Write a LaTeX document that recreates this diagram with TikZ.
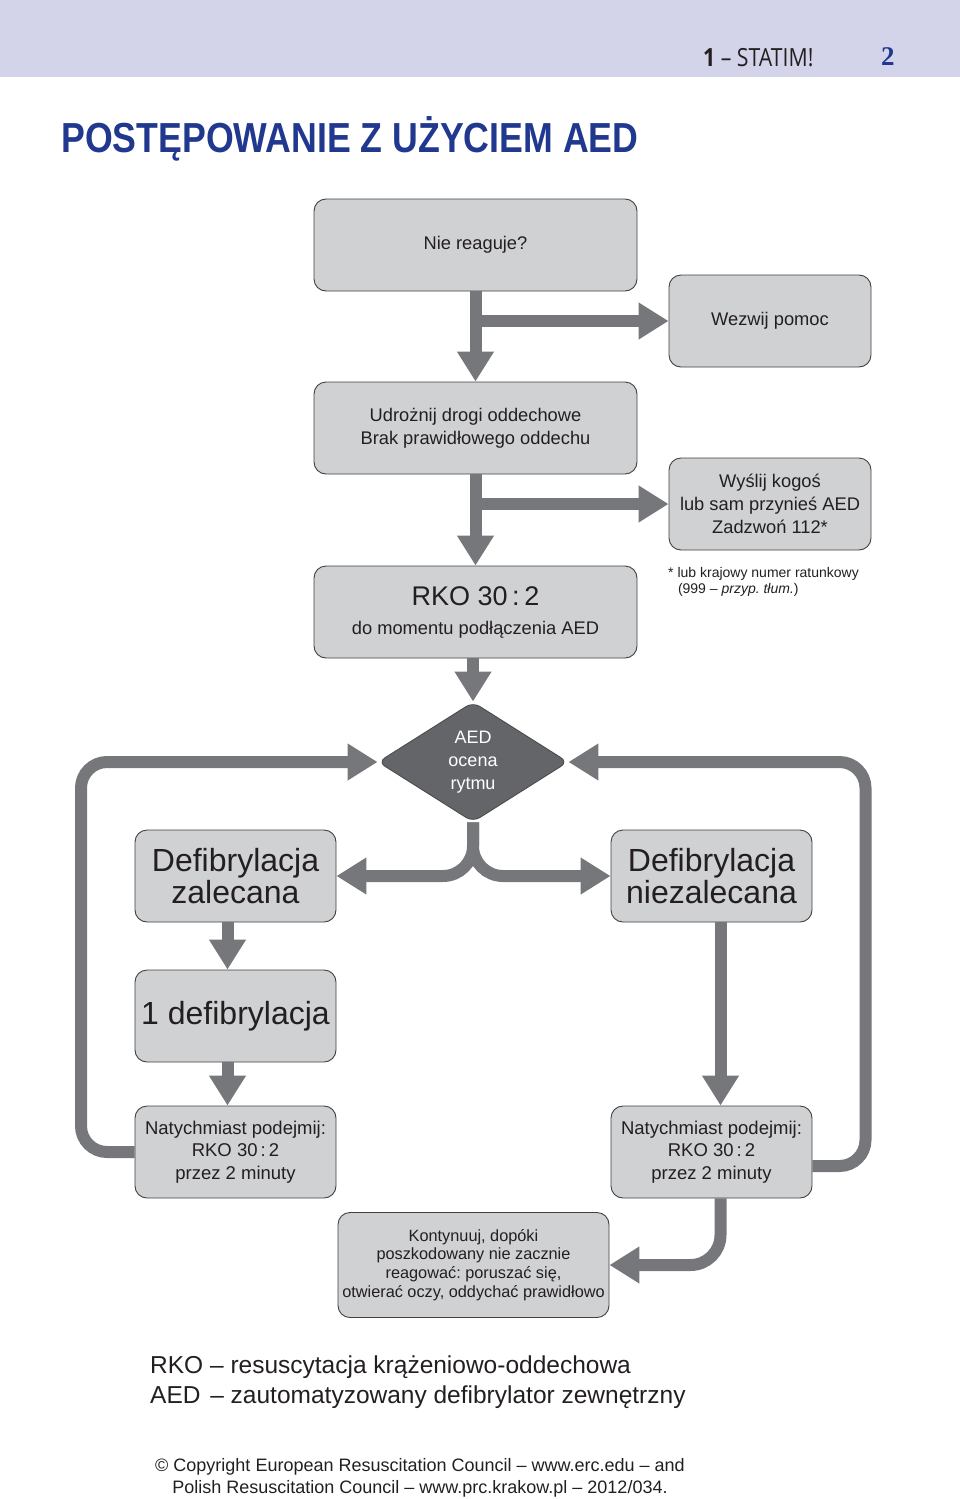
\documentclass[tikz,border=0pt]{standalone}
\usepackage{fontspec}
\usepackage{graphicx}
\setmainfont{Liberation Sans}
\newfontfamily\headfont{Open Sans}
\newfontfamily\numfont{Liberation Serif}
\usetikzlibrary{arrows.meta,shapes.geometric}
\frenchspacing

\definecolor{bandblue}{RGB}{211,212,233}
\definecolor{titleblue}{RGB}{33,56,143}
\definecolor{boxgray}{RGB}{208,209,211}
\definecolor{flowgray}{RGB}{118,119,122}
\definecolor{diagray}{RGB}{100,101,105}
\definecolor{inkblack}{RGB}{35,31,32}

\newcommand{\fsz}[2]{\fontsize{#1}{#2}\selectfont}

\begin{document}
\begin{tikzpicture}[x=1pt, y=-1pt,
  box/.style={draw=black!75, line width=0.9pt, fill=boxgray, rounded corners=12pt,
    align=center, text=inkblack, inner sep=2pt, font=\fsz{18.3}{23}},
  wide/.style={box, minimum width=323pt, minimum height=92pt},
  side/.style={box, minimum width=202pt, minimum height=92pt},
  flow/.style={draw=flowgray, line width=12pt, -{Triangle[width=35pt,length=30pt]}},
  legend/.style={text=inkblack, inner sep=0pt, font=\fsz{24.5}{30}}]
  \useasboundingbox (0,0) rectangle (960,1499);

  % Header band
  \fill[bandblue] (0,0) rectangle (960,77);
  \node[anchor=base west, inner sep=0pt, text=inkblack] (head) at (703,66)
    {\scalebox{0.85}[1]{\headfont\fsz{25}{25}\textbf{1} – STATIM!}};
  \node[anchor=base west, inner sep=0pt, text=titleblue] (page) at (881,65)
    {\numfont\fsz{27}{27}\bfseries 2};

  % Title
  \node[anchor=base west, inner sep=0pt, text=titleblue] (title) at (61,152)
    {\scalebox{0.85}[1]{\fsz{42}{42}\bfseries POSTĘPOWANIE Z UŻYCIEM AED}};

  % Boxes
  \node[wide] (nie) at (475.5,245) {Nie reaguje?};
  \node[side] (wez) at (770,321) {Wezwij pomoc};
  \node[wide] (udr) at (475.5,428) {Udrożnij drogi oddechowe\\Brak prawidłowego oddechu};
  \node[side] (wys) at (770,504) {Wyślij kogoś\\lub sam przynieś AED\\Zadzwoń 112*};
  \node[anchor=north west, align=left, inner sep=0pt, text=inkblack, font=\fsz{14}{16}]
    (note) at (668,567) {* lub krajowy numer ratunkowy\\\hspace*{0.7em}(999 – \textit{przyp. tłum.})};
  \node[wide] (rko) at (475.5,612)
    {{\fsz{27}{31}RKO 30\,:\,2}\\[6pt]do momentu podłączenia AED};

  % Rhythm check
  \node[shape=diamond, aspect=1.6, minimum width=190pt, minimum height=120pt, inner sep=0pt,
    fill=diagray, draw=black!70, line width=0.9pt, rounded corners=8pt, align=center,
    text=white, font=\fsz{18}{23}] (aed) at (473,762) {AED\\ocena\\rytmu};

  \node[box, minimum width=201pt, minimum height=92pt, font=\fsz{32}{32}] (defz) at (235.5,876)
    {Defibrylacja\\zalecana};
  \node[box, minimum width=201pt, minimum height=92pt, font=\fsz{32}{32}] (defn) at (711.5,876)
    {Defibrylacja\\niezalecana};
  \node[box, minimum width=201pt, minimum height=92pt, font=\fsz{32}{32}] (jeden) at (235.5,1016)
    {1 defibrylacja};
  \node[box, minimum width=201pt, minimum height=92pt, font=\fsz{18.5}{22.5}] (natL) at (235.5,1152)
    {Natychmiast podejmij:\\RKO 30\,:\,2\\przez 2 minuty};
  \node[box, minimum width=201pt, minimum height=92pt, font=\fsz{18.5}{22.5}] (natR) at (711.5,1152)
    {Natychmiast podejmij:\\RKO 30\,:\,2\\przez 2 minuty};
  \node[box, minimum width=271pt, minimum height=105pt, font=\fsz{16.3}{18.7}] (kont) at (473.5,1265)
    {Kontynuuj, dopóki\\poszkodowany nie zacznie\\reagować: poruszać się,\\otwierać oczy, oddychać prawidłowo};

  % Loop corners
  \coordinate (loopL) at (81,762);
  \coordinate (loopR) at (865.5,762);

  % Arrows
  \draw[flow] (nie.south) -- (udr.north);
  \draw[flow] (nie.south |- wez.west) -- (wez.west);
  \draw[flow] (udr.south) -- (rko.north);
  \draw[flow] (udr.south |- wys.west) -- (wys.west);
  \draw[flow] (rko.south -| aed.north) -- (aed.north);
  \draw[flow, rounded corners=30pt] (aed.south) |- (defz.east);
  \draw[flow, rounded corners=30pt] (aed.south) |- (defn.west);
  \draw[flow] ([xshift=-8pt]defz.south) -- ([xshift=-8pt]jeden.north);
  \draw[flow] ([xshift=-8pt]jeden.south) -- ([xshift=-8pt]natL.north);
  \draw[flow] ([xshift=9pt]defn.south) -- ([xshift=9pt]natR.north);
  \draw[flow, rounded corners=26pt] (natL.west) -| (loopL) -- (aed.west);
  \draw[flow, rounded corners=26pt] ([yshift=-14pt]natR.east) -| (loopR) -- (aed.east);
  \draw[flow, rounded corners=30pt] ([xshift=9pt]natR.south) |- (kont.east);

  % Legend
  \node[legend, anchor=west] (abbr1) at (150,1367) {RKO – resuscytacja krążeniowo-oddechowa};
  \node[legend, anchor=west] (abbr2) at (150,1397)
    {AED\hspace{0.12em} – zautomatyzowany defibrylator zewnętrzny};
  \node[align=center, inner sep=0pt, text=inkblack, font=\fsz{18}{22}] (copy) at (420,1478)
    {© Copyright European Resuscitation Council – www.erc.edu – and\\
     Polish Resuscitation Council – www.prc.krakow.pl – 2012/034.};
\end{tikzpicture}
\end{document}
